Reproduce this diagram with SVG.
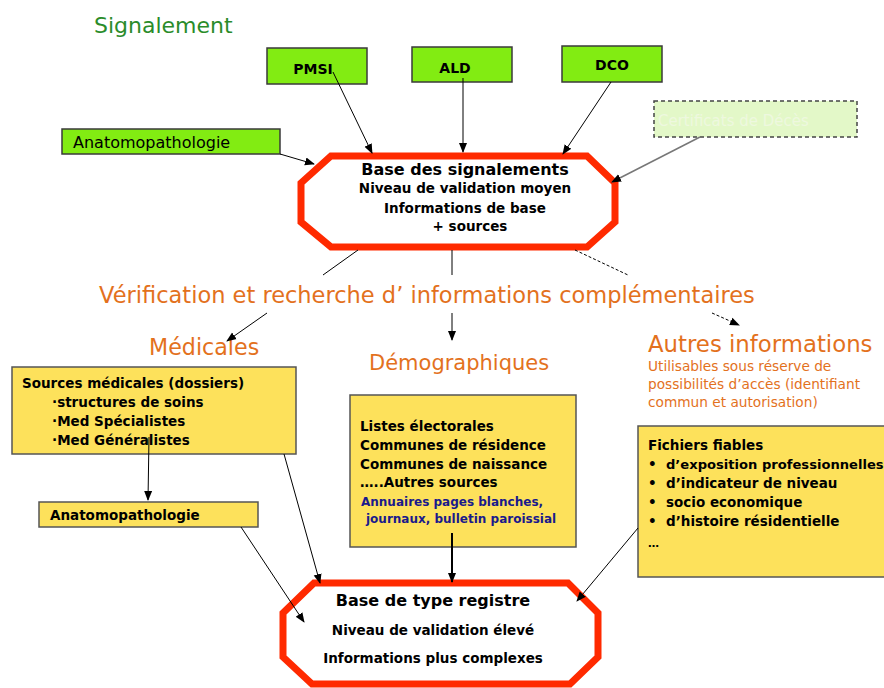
<svg xmlns="http://www.w3.org/2000/svg" width="884" height="688" viewBox="0 0 884 688">
<style>
text{font-family:"DejaVu Sans","Liberation Sans",sans-serif;}
.g{fill:#82EC12;stroke:#3a3a3a;stroke-width:1.5;}
.y{fill:#FDE15B;stroke:#555;stroke-width:1.5;}
.oct{fill:#fff;stroke:#FF2A00;stroke-width:7;stroke-linejoin:miter;}
.b{font-weight:bold;fill:#000;}
.o{fill:#E3711D;}
.c{stroke:#000;stroke-width:1;fill:none;}
.bl{fill:#1a1a8c;font-weight:bold;}
</style>
<defs>
<marker id="ah" markerWidth="10" markerHeight="10" refX="9" refY="5" orient="auto" markerUnits="userSpaceOnUse">
<path d="M0,1 L10,5 L0,9 Z" fill="#000"/>
</marker>
</defs>
<rect width="884" height="688" fill="#fff"/>

<text x="94" y="33" font-size="22" fill="#2A8C2A">Signalement</text>

<g id="pmsi"><rect class="g" x="267" y="48" width="100" height="36"/><text class="b" x="313" y="74" font-size="14" text-anchor="middle">PMSI</text></g>
<g id="ald"><rect class="g" x="412" y="47" width="100" height="35"/><text class="b" x="455" y="73" font-size="14" text-anchor="middle">ALD</text></g>
<g id="dco"><rect class="g" x="562" y="46" width="100" height="36"/><text class="b" x="612" y="70" font-size="14" text-anchor="middle">DCO</text></g>
<g id="anapath1"><rect class="g" x="62" y="129" width="218" height="25"/><text x="73" y="148" font-size="16" fill="#000">Anatomopathologie</text></g>
<g id="certif"><rect x="654" y="101" width="203" height="36" fill="#E3F8C8" stroke="#444" stroke-width="1.5" stroke-dasharray="4,3"/><text x="658" y="126" font-size="15" fill="#EEF8DF">Certificats de Décès</text></g>

<g id="base-signalements">
<polygon class="oct" points="331,156 587,156 615,183 615,222 587,247 331,247 301,222 301,183"/>
<text class="b" x="465" y="175" font-size="16" text-anchor="middle">Base des signalements</text>
<text class="b" x="465" y="193" font-size="13.5" text-anchor="middle">Niveau de validation moyen</text>
<text class="b" x="465" y="213" font-size="13.5" text-anchor="middle">Informations de base</text>
<text class="b" x="470" y="231" font-size="13.5" text-anchor="middle">+ sources</text>
</g>

<text class="o" x="99" y="303" font-size="22.5">Vérification et recherche d’ informations complémentaires</text>
<text class="o" x="149" y="355" font-size="22.2">Médicales</text>
<text class="o" x="369" y="370" font-size="21">Démographiques</text>
<text class="o" x="648" y="352" font-size="22.8">Autres informations</text>
<text class="o" x="648" y="371" font-size="13.7">Utilisables sous réserve de</text>
<text class="o" x="648" y="389" font-size="13.7">possibilités d’accès (identifiant</text>
<text class="o" x="648" y="407" font-size="13.7">commun et autorisation)</text>

<g id="sources-medicales"><rect class="y" x="12" y="367" width="284" height="87"/>
<text class="b" x="22" y="388" font-size="13.5">Sources médicales (dossiers)</text>
<text class="b" x="52" y="407" font-size="13.5">·structures de soins</text>
<text class="b" x="52" y="426" font-size="13.5">·Med Spécialistes</text>
<text class="b" x="52" y="445" font-size="13.5">·Med Généralistes</text>
</g>
<g id="anapath2"><rect class="y" x="39" y="502" width="219" height="25"/><text class="b" x="50" y="520" font-size="13.5">Anatomopathologie</text></g>

<g id="demographiques"><rect class="y" x="350" y="395" width="226" height="152"/>
<text class="b" x="360" y="431" font-size="13.5">Listes électorales</text>
<text class="b" x="360" y="450" font-size="13.5">Communes de résidence</text>
<text class="b" x="360" y="469" font-size="13.5">Communes de naissance</text>
<text class="b" x="360" y="487" font-size="13.5">…..Autres sources</text>
<text class="bl" x="361" y="506" font-size="12">Annuaires pages blanches,</text>
<text class="bl" x="366" y="523" font-size="12">journaux, bulletin paroissial</text>
</g>

<g id="fichiers"><rect class="y" x="638" y="426" width="260" height="151"/>
<text class="b" x="648" y="450" font-size="13.5">Fichiers fiables</text>
<text class="b" x="648" y="469" font-size="13.5">•</text><text class="b" x="666" y="469" font-size="13.1">d’exposition professionnelles</text>
<text class="b" x="648" y="488" font-size="13.5">•</text><text class="b" x="666" y="488" font-size="13.5">d’indicateur de niveau</text>
<text class="b" x="648" y="507" font-size="13.5">•</text><text class="b" x="666" y="507" font-size="13.5">socio economique</text>
<text class="b" x="648" y="526" font-size="13.5">•</text><text class="b" x="666" y="526" font-size="13.5">d’histoire résidentielle</text>
<text class="b" x="648" y="547" font-size="11">…</text>
</g>

<g id="base-registre">
<polygon class="oct" points="314,583 568,583 598,613 598,657 570,684 312,684 283,657 283,613"/>
<text class="b" x="433" y="606" font-size="16" text-anchor="middle">Base de type registre</text>
<text class="b" x="433" y="635" font-size="13.5" text-anchor="middle">Niveau de validation élevé</text>
<text class="b" x="433" y="663" font-size="13.5" text-anchor="middle">Informations plus complexes</text>
</g>

<g id="connectors">
<line class="c" x1="333" y1="72" x2="372" y2="153" marker-end="url(#ah)"/>
<line class="c" x1="463" y1="78" x2="463" y2="152" marker-end="url(#ah)"/>
<line class="c" x1="611" y1="82" x2="563" y2="154" marker-end="url(#ah)"/>
<line class="c" x1="280" y1="154" x2="314" y2="164" marker-end="url(#ah)"/>
<line x1="700" y1="137" x2="612" y2="182" stroke="#777" stroke-width="1.5" fill="none" marker-end="url(#ah)"/>
<line class="c" x1="358" y1="250" x2="323" y2="275"/>
<line class="c" x1="452" y1="250" x2="452" y2="275"/>
<line class="c" x1="575" y1="250" x2="628" y2="275" stroke-dasharray="3,2"/>
<line class="c" x1="267" y1="313" x2="227" y2="341" marker-end="url(#ah)"/>
<line class="c" x1="452" y1="313" x2="452" y2="340" marker-end="url(#ah)"/>
<line class="c" x1="712" y1="313" x2="739" y2="325" stroke-dasharray="3,2" marker-end="url(#ah)"/>
<line class="c" x1="149" y1="437" x2="148" y2="500" marker-end="url(#ah)"/>
<line class="c" x1="284" y1="454" x2="320" y2="583" marker-end="url(#ah)"/>
<line class="c" x1="241" y1="527" x2="304" y2="622" marker-end="url(#ah)"/>
<line x1="452" y1="533" x2="452" y2="582" stroke="#000" stroke-width="2" marker-end="url(#ah)"/>
<line class="c" x1="638" y1="528" x2="577" y2="601" marker-end="url(#ah)"/>
</g>
</svg>
